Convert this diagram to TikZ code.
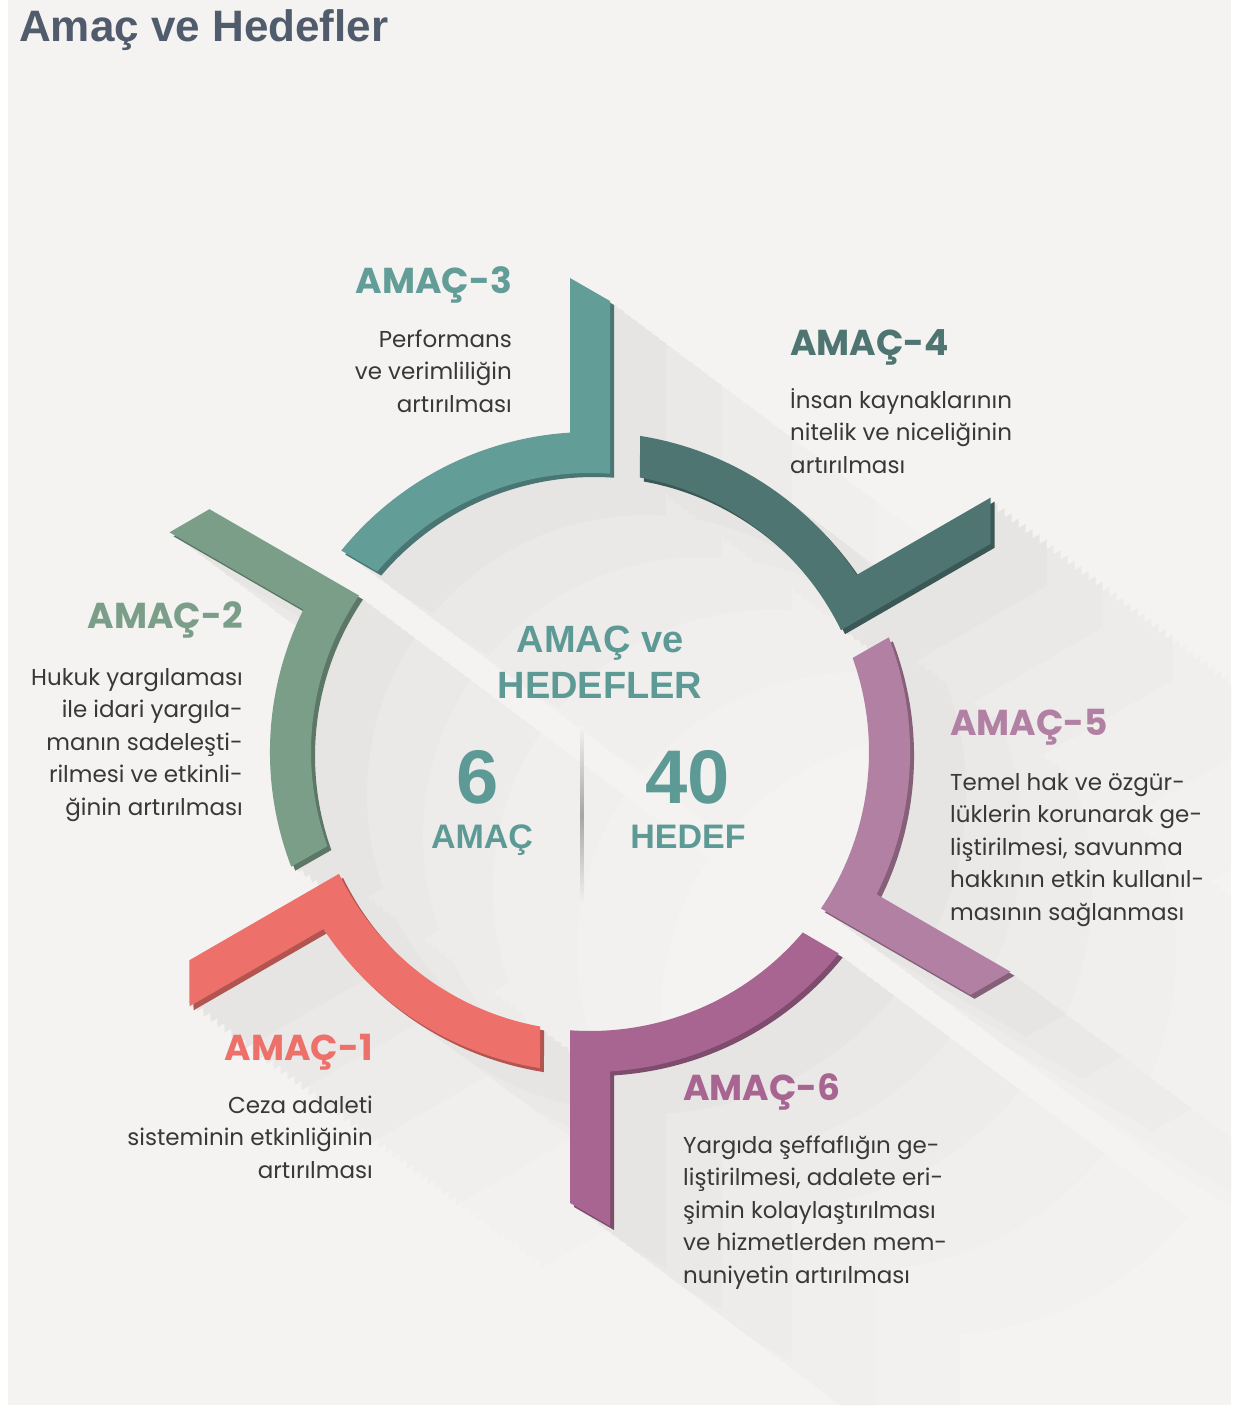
\documentclass[tikz,border=0pt]{standalone}
\usepackage{fontspec}
\setmainfont{Poppins}
\newfontfamily\hdfont{Liberation Sans}
\definecolor{bg}{HTML}{F4F3F2}
\definecolor{titlec}{HTML}{505B6C}
\definecolor{txt}{HTML}{383838}
\definecolor{cThree}{HTML}{629D98}
\definecolor{cFour}{HTML}{4E7571}
\definecolor{cFive}{HTML}{B280A2}
\definecolor{cSix}{HTML}{A86591}
\definecolor{cOne}{HTML}{EE706A}
\definecolor{cTwo}{HTML}{7A9E88}
\definecolor{ctr}{HTML}{5E9A95}
\newcommand\segpath{(20,278.3) -- (20,451) -- (-20,474) -- (-20,319.4) arc[start angle=93.58, end angle=141.0, radius=320] -- (139.7:279) arc[start angle=139.7, end angle=85.89, radius=279] -- cycle}
\tikzset{
  head/.style={font=\fontsize{36}{40}\selectfont\bfseries, text=#1, inner sep=0pt},
  body/.style={font=\fontsize{23}{32.5}\selectfont, text=txt, inner sep=0pt},
  ctrtext/.style={font=\hdfont\bfseries\fontsize{#1}{#1}\selectfont, text=ctr, inner sep=0pt, anchor=base},
}
\begin{document}
\begin{tikzpicture}[x=1pt,y=1pt]
\useasboundingbox (0,0) rectangle (1236,-1413);
\fill[white] (0,0) rectangle (1236,-1413);
\fill[bg] (8,0) rectangle (1231,-1405);
% long shadows
\begin{scope}
\clip (8,0) rectangle (1231,-1405);
\foreach \nn/\op in {8/0.014, 16/0.012, 26/0.01, 38/0.008, 50/0.006}{
  \begin{scope}[transparency group, opacity=\op]
    \foreach \k in {0,...,5}{
      \foreach \i in {1,...,\nn}{
        \fill[black, shift={(7*\i,-5.25*\i)}, shift={(590,-752)}, rotate=-60*\k] \segpath;
      }
    }
  \end{scope}
}
\end{scope}
% centre divider
\shade[top color=bg, bottom color=bg, middle color=black!35] (580.5,-725) rectangle (583.5,-905);
% segments
\foreach \k/\c in {0/cThree,1/cFour,2/cFive,3/cSix,4/cOne,5/cTwo}{
  \fill[\c!75!black, shift={(4,-4)}, shift={(590,-752)}, rotate=-60*\k] \segpath;
  \fill[\c, shift={(590,-752)}, rotate=-60*\k] \segpath;
}
% title
\node[font=\hdfont\bfseries\fontsize{44}{46}\selectfont, text=titlec, anchor=base west, inner sep=0pt] (title) at (19,-42) {Amaç ve Hedefler};
% centre
\node[ctrtext=38] (c1) at (600,-652) {AMAÇ ve};
\node[ctrtext=38] (c2) at (600,-698) {HEDEFLER};
\node[ctrtext=76] (n6) at (478,-803) {6};
\node[ctrtext=34] (n6t) at (482,-848) {AMAÇ};
\node[ctrtext=76] (n40) at (688,-803) {40};
\node[ctrtext=34] (n40t) at (688,-848) {HEDEF};
% AMAC-3
\node[head=cThree, anchor=base east] (h3) at (512,-293) {AMAÇ-3};
\node[body, anchor=base east] (t3) at (512,-347) {\begin{tabular}[t]{@{}r@{}}Performans\\ve verimliliğin\\artırılması\end{tabular}};
% AMAC-4
\node[head=cFour, anchor=base west] (h4) at (790,-355) {AMAÇ-4};
\node[body, anchor=base west] (t4) at (790,-408) {\begin{tabular}[t]{@{}l@{}}İnsan kaynaklarının\\nitelik ve niceliğinin\\artırılması\end{tabular}};
% AMAC-2
\node[head=cTwo, anchor=base east] (h2) at (243,-628) {AMAÇ-2};
\node[body, anchor=base east] (t2) at (243,-685) {\begin{tabular}[t]{@{}r@{}}Hukuk yargılaması\\ile idari yargıla-\\manın sadeleşti-\\rilmesi ve etkinli-\\ğinin artırılması\end{tabular}};
% AMAC-5
\node[head=cFive, anchor=base west] (h5) at (950,-735) {AMAÇ-5};
\node[body, anchor=base west] (t5) at (950,-790) {\begin{tabular}[t]{@{}l@{}}Temel hak ve özgür-\\lüklerin korunarak ge-\\liştirilmesi, savunma\\hakkının etkin kullanıl-\\masının sağlanması\end{tabular}};
% AMAC-1
\node[head=cOne, anchor=base east] (h1) at (373,-1060) {AMAÇ-1};
\node[body, anchor=base east] (t1) at (373,-1113) {\begin{tabular}[t]{@{}r@{}}Ceza adaleti\\sisteminin etkinliğinin\\artırılması\end{tabular}};
% AMAC-6
\node[head=cSix, anchor=base west] (h6) at (683,-1100) {AMAÇ-6};
\node[body, anchor=base west] (t6) at (683,-1153) {\begin{tabular}[t]{@{}l@{}}Yargıda şeffaflığın ge-\\liştirilmesi, adalete eri-\\şimin kolaylaştırılması\\ve hizmetlerden mem-\\nuniyetin artırılması\end{tabular}};
\end{tikzpicture}
\end{document}
